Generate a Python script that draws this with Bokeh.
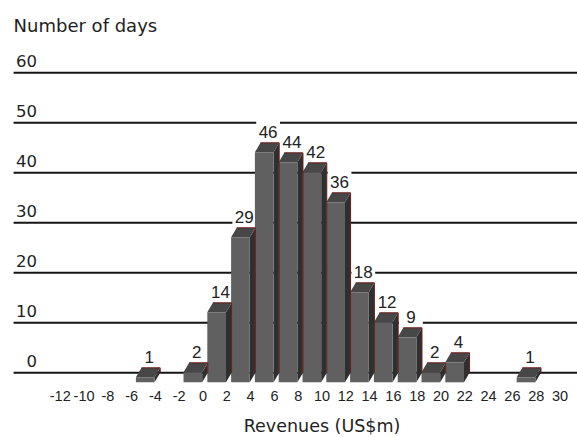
from bokeh.plotting import figure
from bokeh.models import Range1d
from bokeh.core.properties import value
from bokeh.embed import file_html
from bokeh.resources import INLINE

# Histogram of daily revenues: left edge of each 2-wide bin and number of days
bin_left = [-6, -2, 0, 2, 4, 6, 8, 10, 12, 14, 16, 18, 20, 26]
days = [1, 2, 14, 29, 46, 44, 42, 36, 18, 12, 9, 2, 4, 1]

x_tick_values = [-12, -10, -8, -6, -4, -2, 0, 2, 4, 6, 8, 10, 12, 14, 16, 18,
                 20, 22, 24, 26, 28, 30]
x_tick_labels = ["-12", "-10", "-8", "-6", "-4", "-2", "0", "2", "4", "6", "8",
                 "10", "12", "14", "16", "18", "20", "22", "24", "26", "28", "30"]
y_tick_values = [0, 10, 20, 30, 40, 50, 60]
y_tick_labels = ["0", "10", "20", "30", "40", "50", "60"]

y_title = "Number of days"
x_title = "Revenues (US$m)"

# geometry of the pseudo-3D bars (data units)
FRONT_L, FRONT_R = 0.36, 1.93   # front face inside each bin
DX, DY = 0.47, 1.9              # depth offset of the back face
LABEL_DX = 1.47                 # value label centre inside a bin

TITLE_FONT = value("DejaVu Sans")
NUM_FONT = value("Liberation Sans")

X0, X1 = -17.02, 31.47
Y0, Y1 = -12.94, 74.46

p = figure(width=577, height=437, x_range=Range1d(X0, X1), y_range=Range1d(Y0, Y1),
           output_backend="svg", toolbar_location=None,
           x_axis_type=None, y_axis_type=None, min_border=0)
p.outline_line_color = None
p.background_fill_color = "white"
p.border_fill_color = "white"

# horizontal rules
GRID_START = -15.92
n = len(y_tick_values)
p.segment(x0=[GRID_START] * n, y0=y_tick_values, x1=[X1] * n, y1=y_tick_values,
          line_color="#151515", line_width=2)

# y labels sitting on the rules
p.text(x=[-13.95] * n, y=[v + 2.28 for v in y_tick_values], text=y_tick_labels,
       text_align="right", text_baseline="middle",
       text_font=TITLE_FONT, text_font_size="16.5px", text_color="#1e1e1e")

p.text(x=[GRID_START], y=[69.5], text=[y_title], text_align="left",
       text_baseline="middle", text_font=TITLE_FONT, text_font_size="18px",
       text_color="#1e1e1e")

# white boxes behind value labels (they interrupt the rules)
label_x = [l + LABEL_DX for l in bin_left]
p.rect(x=label_x, y=[v + 2.2 for v in days], width=2.0, height=4.4,
       fill_color="white", line_color=None)

# bars: side faces, then top faces, then front faces
fl = [l + FRONT_L for l in bin_left]
fr = [l + FRONT_R for l in bin_left]

side_xs = [[r, r + DX, r + DX, r] for r in fr]
side_ys = [[-DY, 0, v, v - DY] for v in days]
p.patches(side_xs, side_ys, fill_color="#2f2f2f", line_color=None)

top_xs = [[a, b, b + DX, a + DX] for a, b in zip(fl, fr)]
top_ys = [[v - DY, v - DY, v, v] for v in days]
p.patches(top_xs, top_ys, fill_color="#474747", line_color=None)

p.quad(left=fl, right=fr, bottom=[-DY] * len(days), top=[v - DY for v in days],
       fill_color="#606060", line_color=None)

# thin dark-red rim on back edge and rear corner
rim_xs = [[a + DX, b + DX, b + DX] for a, b in zip(fl, fr)]
rim_ys = [[v, v, 0] for v in days]
p.multi_line(rim_xs, rim_ys, line_color="#6e1c1c", line_width=1)

# value labels
p.text(x=label_x, y=[v + 2.1 for v in days], text=[str(v) for v in days],
       text_align="center", text_baseline="middle",
       text_font=NUM_FONT, text_font_size="17px", text_color="#222222")

# x tick labels
p.text(x=x_tick_values, y=[-4.54] * len(x_tick_values), text=x_tick_labels,
       text_align="center", text_baseline="middle",
       text_font=NUM_FONT, text_font_size="14.5px", text_color="#222222")

p.text(x=[10], y=[-10.7], text=[x_title], text_align="center",
       text_baseline="middle", text_font=TITLE_FONT, text_font_size="17.5px",
       text_color="#1e1e1e")

open("out.html", "w").write(file_html(p, INLINE))
